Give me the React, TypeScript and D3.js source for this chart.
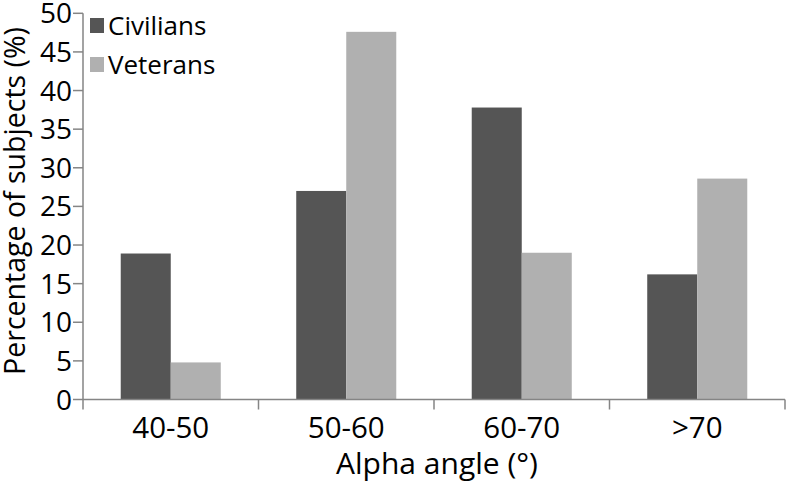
import React from "react";
import * as d3 from "d3";

const categories = ["40-50", "50-60", "60-70", ">70"];
const seriesNames = ["Civilians", "Veterans"];
const civilians = [18.9, 27.0, 37.8, 16.2];
const veterans = [4.8, 47.6, 19.0, 28.6];
const yTicks = [0, 5, 10, 15, 20, 25, 30, 35, 40, 45, 50];
const colors = ["#555555", "#b0b0b0"];

const W = 787;
const H = 485;
const left = 83;
const right = 785;
const top = 13.3;
const bottom = 399.5;
const FONT = "'Open Sans', 'DejaVu Sans', sans-serif";
const AXIS = "#858585";

export default function App() {
  const x = d3.scaleBand<string>().domain(categories).range([left, right]).paddingInner(0.43).paddingOuter(0.215);
  const xs = d3.scaleBand<string>().domain(seriesNames).range([0, x.bandwidth()]);
  const y = d3.scaleLinear().domain([0, 50]).range([bottom, top]);
  const series = [civilians, veterans];
  const step = x.step();
  const boundaries = d3.range(categories.length + 1).map((i) => left + i * step);

  return (
    <svg width={W} height={H} style={{ position: "absolute", left: 0, top: 0, background: "#fff" }} fontFamily={FONT}>
      {series.map((vals, si) =>
        vals.map((v, ci) => (
          <rect
            key={`${si}-${ci}`}
            x={(x(categories[ci]) as number) + (xs(seriesNames[si]) as number)}
            y={y(v)}
            width={xs.bandwidth()}
            height={y(0) - y(v)}
            fill={colors[si]}
          />
        ))
      )}
      {/* y axis */}
      <line x1={left} x2={left} y1={top} y2={bottom} stroke={AXIS} strokeWidth={1.5} />
      {yTicks.map((t) => (
        <g key={t}>
          <line x1={left - 10} x2={left} y1={y(t)} y2={y(t)} stroke={AXIS} strokeWidth={1.5} />
          <text x={left - 11} y={y(t)} dy="0.36em" textAnchor="end" fontSize={28} fill="#000">
            {t}
          </text>
        </g>
      ))}
      {/* x axis */}
      <line x1={left} x2={right} y1={bottom} y2={bottom} stroke={AXIS} strokeWidth={1.5} />
      {boundaries.map((b, i) => (
        <line key={i} x1={b} x2={b} y1={bottom} y2={bottom + 10} stroke={AXIS} strokeWidth={1.5} />
      ))}
      {categories.map((c) => (
        <text key={c} x={(x(c) as number) + x.bandwidth() / 2} y={438} textAnchor="middle" fontSize={29.5} fill="#000">
          {c}
        </text>
      ))}
      <text x={(left + right) / 2 + 3} y={474} textAnchor="middle" fontSize={30} fill="#000">
        Alpha angle (°)
      </text>
      <text transform={`translate(25, ${201}) rotate(-90)`} textAnchor="middle" fontSize={28.5} fill="#000">
        Percentage of subjects (%)
      </text>
      {/* legend */}
      {seriesNames.map((s, i) => (
        <g key={s}>
          <rect x={90} y={18 + i * 39} width={14} height={15} fill={colors[i]} />
          <text x={108} y={35 + i * 39} fontSize={26} fill="#000">
            {s}
          </text>
        </g>
      ))}
    </svg>
  );
}
